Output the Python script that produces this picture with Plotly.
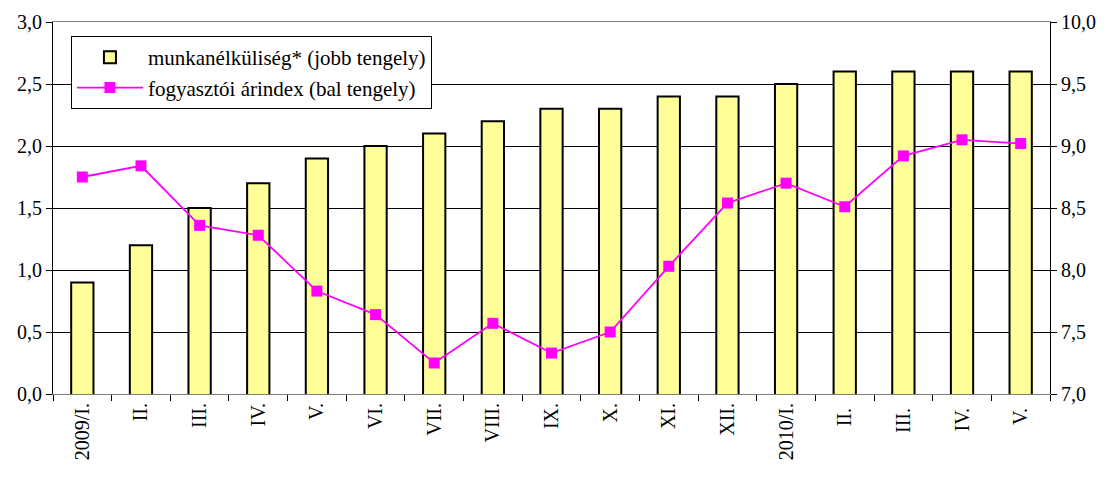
import plotly.graph_objects as go

categories = ["2009/I.", "II.", "III.", "IV.", "V.", "VI.", "VII.", "VIII.", "IX.", "X.",
              "XI.", "XII.", "2010/I.", "II. ", "III. ", "IV. ", "V. "]
unemployment = [7.9, 8.2, 8.5, 8.7, 8.9, 9.0, 9.1, 9.2, 9.3, 9.3, 9.4, 9.4, 9.5, 9.6, 9.6, 9.6, 9.6]
cpi = [1.75, 1.84, 1.36, 1.28, 0.83, 0.64, 0.25, 0.57, 0.33, 0.50, 1.03, 1.54, 1.70, 1.51, 1.92, 2.05, 2.02]

font_family = "Liberation Serif"

fig = go.Figure()
fig.add_trace(go.Bar(
    x=categories, y=unemployment, name="munkanélküliség* (jobb tengely)",
    marker=dict(color="#FFFF99", line=dict(color="black", width=2)),
    yaxis="y", legendgroup="a",
))
fig.add_trace(go.Scatter(
    x=categories, y=cpi, name="fogyasztói árindex (bal tengely)",
    mode="lines+markers",
    line=dict(color="#FF00FF", width=1.8),
    marker=dict(symbol="square", size=11, color="#FF00FF"),
    yaxis="y2", legendgroup="b",
))

fig.update_layout(
    width=1110, height=477,
    margin=dict(l=45, r=68, t=14, b=91),
    paper_bgcolor="white", plot_bgcolor="white",
    separators=", ",
    font=dict(family=font_family, size=20, color="black"),
    bargap=0.62,
    showlegend=True,
    legend=dict(
        x=0.018, y=0.962, xanchor="left", yanchor="top",
        bgcolor="white", bordercolor="black", borderwidth=1,
        font=dict(family=font_family, size=21),
        traceorder="normal", tracegroupgap=2, itemwidth=66,
    ),
    xaxis=dict(
        type="category", tickangle=-90, range=[-0.5, 16.5],
        ticks="outside", tickson="boundaries", ticklen=6, tickcolor="black",
        showline=True, linecolor="#808080", linewidth=1, mirror=True,
        showgrid=False, automargin=False,
        tickfont=dict(family=font_family, size=20),
    ),
    yaxis=dict(
        side="right", range=[7, 10], dtick=0.5, tickformat=".1f",
        showline=True, linecolor="black", linewidth=1,
        ticks="outside", ticklen=6, tickcolor="black",
        showgrid=True, gridcolor="black", gridwidth=1,
        zeroline=False, automargin=False,
        tickfont=dict(family=font_family, size=20),
    ),
    yaxis2=dict(
        side="left", overlaying="y", range=[0, 3], dtick=0.5, tickformat=".1f",
        showline=True, linecolor="black", linewidth=1,
        ticks="outside", ticklen=6, tickcolor="black",
        showgrid=False, zeroline=False, automargin=False,
        tickfont=dict(family=font_family, size=20),
    ),
)

fig.write_html("out.html")
